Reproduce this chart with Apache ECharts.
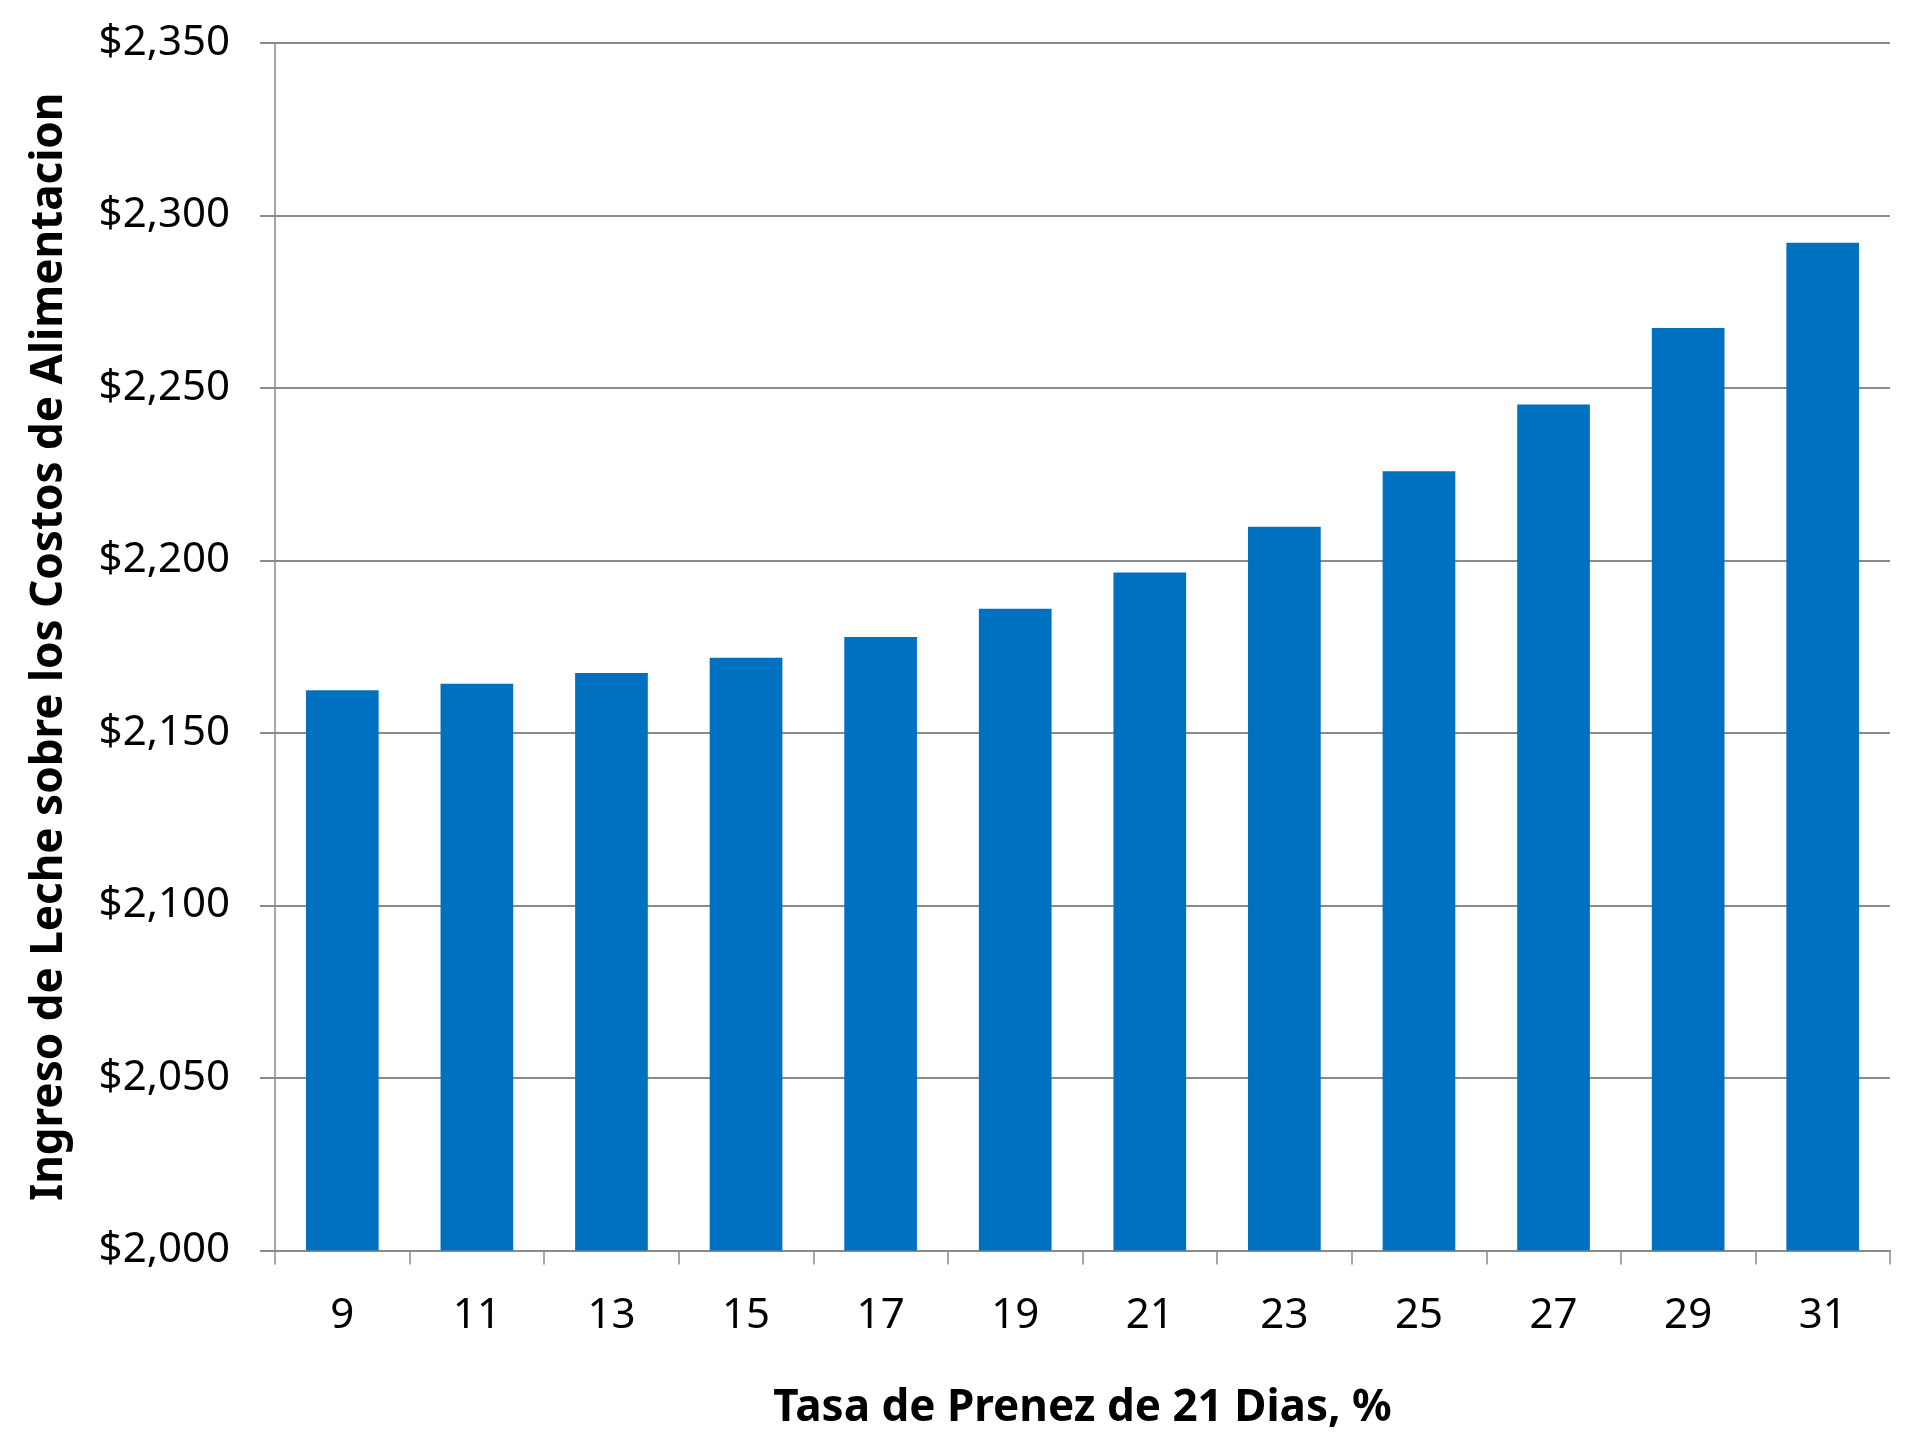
<!DOCTYPE html>
<html>
<head>
<meta charset="utf-8">
<script src="https://cdn.jsdelivr.net/npm/echarts@6/dist/echarts.min.js"></script>
<style>html,body{margin:0;padding:0;background:#fff}#c{width:1905px;height:1440px}</style>
</head>
<body>
<div id="c"></div>
<script>
const categories = ['9','11','13','15','17','19','21','23','25','27','29','31'];
const values = [2162.4, 2164.3, 2167.4, 2171.8, 2177.8, 2186.0, 2196.5, 2209.8, 2225.9, 2245.2, 2267.4, 2292.1];
const yMin = 2000, yMax = 2350, yStep = 50;
const xTitle = 'Tasa de Prenez de 21 Dias, %';
const yTitle = 'Ingreso de Leche sobre los Costos de Alimentacion';

const chart = echarts.init(document.getElementById('c'), null, {renderer: 'canvas'});
const axisGray = '#8a8a8a';
const font = 'Noto Sans';
chart.setOption({
  animation: false,
  backgroundColor: '#ffffff',
  grid: {left: 275, right: 15, top: 43, bottom: 189.5, containLabel: false},
  xAxis: {
    type: 'category',
    data: categories,
    name: xTitle,
    nameLocation: 'middle',
    nameGap: 136,
    nameTextStyle: {fontFamily: font, fontWeight: 'bold', fontSize: 44, color: '#000'},
    axisLine: {lineStyle: {color: axisGray, width: 2}},
    axisTick: {show: true, alignWithLabel: false, length: 14, lineStyle: {color: axisGray, width: 1.5}},
    axisLabel: {fontFamily: font, fontSize: 42, color: '#000', margin: 45},
    splitLine: {show: false}
  },
  yAxis: {
    type: 'value',
    min: yMin, max: yMax, interval: yStep,
    name: yTitle,
    nameLocation: 'middle',
    nameRotate: 90,
    nameGap: 204,
    nameTextStyle: {fontFamily: font, fontWeight: 'bold', fontSize: 44, color: '#000'},
    axisLine: {show: true, lineStyle: {color: axisGray, width: 1.5}},
    axisTick: {show: true, length: 15, lineStyle: {color: axisGray, width: 2}},
    axisLabel: {
      fontFamily: font, fontSize: 42, color: '#000', margin: 45,
      formatter: v => '$' + v.toLocaleString('en-US')
    },
    splitLine: {show: true, lineStyle: {color: axisGray, width: 2}}
  },
  series: [{
    type: 'bar',
    data: values,
    barCategoryGap: '46%',
    itemStyle: {color: '#0070C0'}
  }]
});
</script>
</body>
</html>
